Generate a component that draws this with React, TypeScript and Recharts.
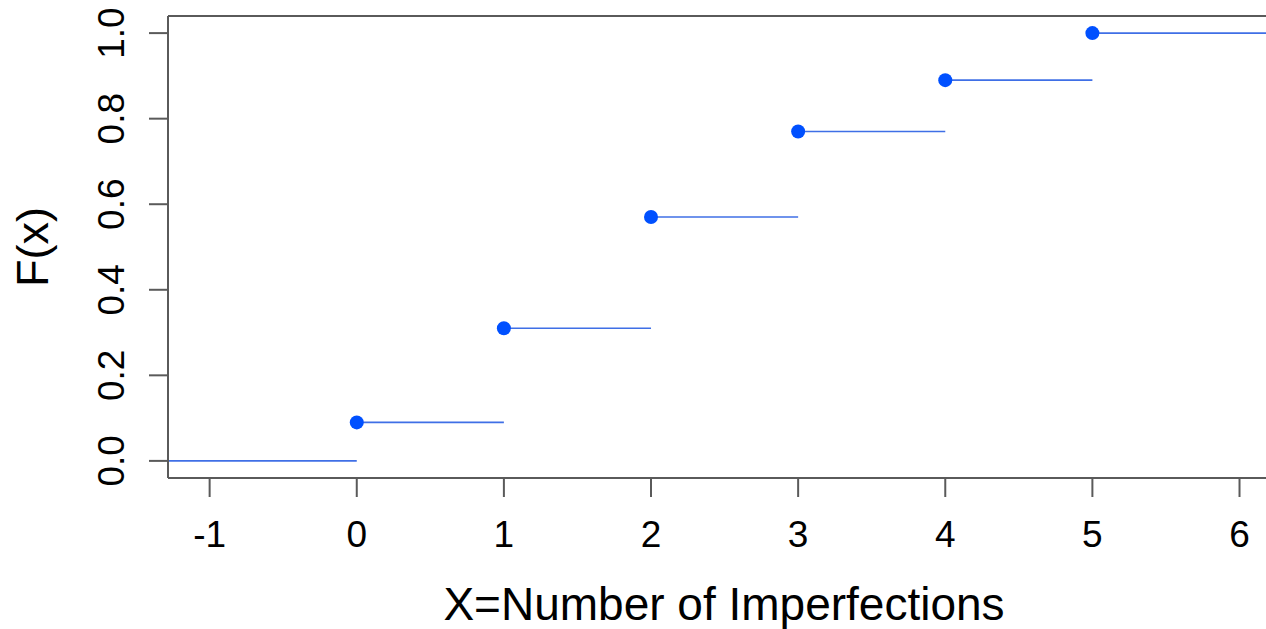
import React from 'react';
import { ComposedChart, Line, Scatter, XAxis, YAxis, ReferenceLine } from 'recharts';

// step CDF of number of imperfections
const imperfections = [0, 1, 2, 3, 4, 5];
const cumulative = [0.09, 0.31, 0.57, 0.77, 0.89, 1.0];
const xTicks = [-1, 0, 1, 2, 3, 4, 5, 6];
const yTicks = [0, 0.2, 0.4, 0.6, 0.8, 1.0];
const xDomain = [-1.283, 6.18];
const yDomain = [-0.04, 1.04];

const FONT = '"Liberation Sans", Arial, sans-serif';
const FRAME = '#5a5a5a';
const LINE_BLUE = '#3f6fe6';
const DOT_BLUE = '#0050ff';

const segments = [
  [{ x: xDomain[0], y: 0 }, { x: imperfections[0], y: 0 }],
  ...imperfections.map((x, i) => [
    { x, y: cumulative[i] },
    { x: i + 1 < imperfections.length ? imperfections[i + 1] : xDomain[1], y: cumulative[i] },
  ]),
];

const points = imperfections.map((x, i) => ({ x, y: cumulative[i] }));

const XTick = (props: any) => {
  const { x, y, payload } = props;
  return (
    <text x={x} y={y + 50} textAnchor="middle" fontSize={37} fontFamily={FONT} fill="#000">
      {payload.value}
    </text>
  );
};

const YTick = (props: any) => {
  const { x, y, payload } = props;
  const tx = x - 25;
  return (
    <text x={tx} y={y} transform={`rotate(-90, ${tx}, ${y})`} textAnchor="middle" fontSize={37} fontFamily={FONT} fill="#000">
      {Number(payload.value).toFixed(1)}
    </text>
  );
};

const XTitle = () => (
  <text x={724} y={620} textAnchor="middle" fontSize={46} fontFamily={FONT} fill="#000">
    X=Number of Imperfections
  </text>
);

const YTitle = () => (
  <text x={48} y={247} transform="rotate(-90, 48, 247)" textAnchor="middle" fontSize={45} fontFamily={FONT} fill="#000">
    F(x)
  </text>
);

const Dot = (props: any) => <circle cx={props.cx} cy={props.cy} r={7} fill={DOT_BLUE} />;

export default function App() {
  return (
    <div style={{ position: 'absolute', left: 0, top: 0, background: '#fff' }}>
      <ComposedChart width={1266} height={629} margin={{ top: 16, right: 0, bottom: 0, left: 0 }}>
        <XAxis
          type="number"
          dataKey="x"
          domain={xDomain}
          allowDataOverflow
          ticks={xTicks}
          interval={0}
          height={151}
          tickSize={19}
          tickMargin={0}
          tick={<XTick />}
          axisLine={{ stroke: FRAME, strokeWidth: 2 }}
          tickLine={{ stroke: FRAME, strokeWidth: 2 }}
          label={<XTitle />}
        />
        <YAxis
          type="number"
          dataKey="y"
          domain={yDomain}
          allowDataOverflow
          ticks={yTicks}
          interval={0}
          width={168}
          tickSize={19}
          tickMargin={0}
          tick={<YTick />}
          axisLine={{ stroke: FRAME, strokeWidth: 2 }}
          tickLine={{ stroke: FRAME, strokeWidth: 2 }}
          label={<YTitle />}
        />
        <ReferenceLine y={yDomain[1]} stroke={FRAME} strokeWidth={2} />
        {segments.map((seg, i) => (
          <Line
            key={`seg${i}`}
            data={seg}
            dataKey="y"
            type="linear"
            stroke={LINE_BLUE}
            strokeWidth={1.6}
            dot={false}
            activeDot={false}
            isAnimationActive={false}
          />
        ))}
        <Scatter data={points} dataKey="y" shape={<Dot />} isAnimationActive={false} />
      </ComposedChart>
    </div>
  );
}
